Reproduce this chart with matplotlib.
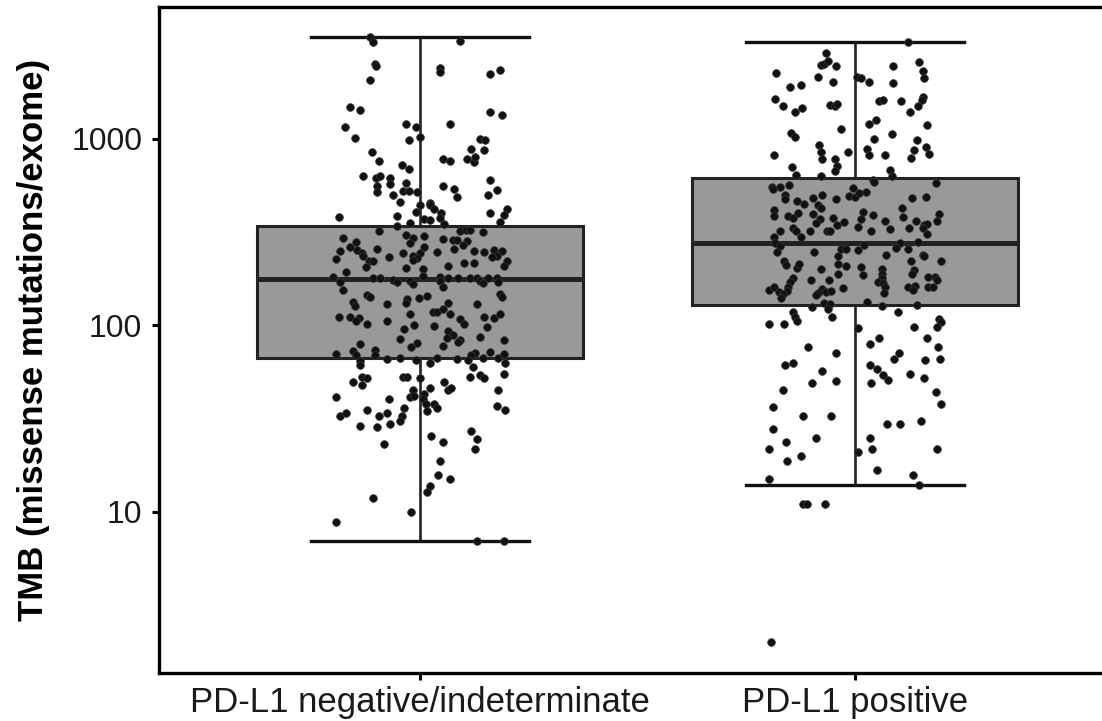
import matplotlib
matplotlib.use("Agg")
import matplotlib.pyplot as plt
from matplotlib.ticker import NullLocator, FixedLocator, FixedFormatter
import numpy as np

plt.rcParams['font.family'] = ['Liberation Sans', 'DejaVu Sans']

# ---------------- data ----------------
categories = ["PD-L1 negative/indeterminate", "PD-L1 positive"]
cat_pos = [1, 2]

# box statistics
box_q1 = [67, 128]
box_med = [177, 276]
box_q3 = [341, 617]
box_whislo = [7, 14]
box_whishi = [3490, 3300]

y_ticks = [10, 100, 1000]
y_tick_labels = ["10", "100", "1000"]

# jittered points, group 1 (x position on category axis, TMB value)
neg_x = [0.886, 0.893, 1.093, 0.897, 0.898, 0.886, 1.045, 1.047, 1.162, 1.183,
         0.838, 0.861, 1.160, 1.189, 0.827, 0.967, 0.990, 1.070, 0.999, 0.850,
         0.974, 1.139, 1.150, 1.118, 1.146, 0.889, 0.905, 1.052, 1.068, 1.107,
         1.123, 1.127, 0.958, 0.974, 0.870, 0.898, 0.909, 0.930, 0.930, 0.967,
         0.902, 1.160, 1.054, 1.079, 1.178, 0.900, 0.962, 0.974, 0.994, 0.939,
         1.157, 1.086, 0.955, 0.999, 1.022, 1.024, 1.033, 1.049, 0.990, 1.199,
         1.192, 1.162, 0.813, 0.948, 1.045, 1.010, 1.022, 0.978, 1.056, 0.946,
         1.183, 0.905, 1.091, 1.105, 1.116, 1.144, 0.967, 0.985, 1.010, 0.824,
         0.854, 0.838, 0.817, 0.978, 1.054, 1.075, 1.086, 1.109, 1.098, 1.079,
         1.010, 1.001, 1.038, 0.902, 0.856, 0.866, 0.868, 0.962, 0.983, 0.994,
         0.983, 0.928, 1.123, 1.148, 1.169, 1.189, 1.178, 1.166, 0.808, 0.882,
         0.893, 1.199, 1.192, 1.100, 1.123, 1.065, 0.875, 0.967, 1.008, 0.829,
         0.801, 0.817, 0.822, 0.893, 0.907, 0.937, 0.946, 0.978, 0.985, 1.006,
         1.045, 1.047, 1.052, 1.065, 1.088, 1.116, 1.132, 1.139, 1.144, 1.157,
         1.178, 1.180, 0.879, 0.886, 0.847, 0.850, 0.925, 0.971, 0.967, 0.997,
         1.017, 1.029, 1.040, 1.054, 1.065, 1.068, 1.130, 1.183, 1.189, 0.813,
         0.838, 0.859, 0.854, 0.879, 0.923, 0.978, 0.987, 1.033, 1.091, 1.100,
         1.146, 1.171, 1.185, 1.155, 0.964, 1.065, 1.077, 1.063, 1.091, 1.088,
         1.139, 1.194, 0.955, 0.994, 0.980, 1.052, 0.861, 0.847, 0.854, 0.896,
         0.896, 0.808, 1.127, 1.118, 1.144, 1.160, 1.192, 1.180, 0.925, 0.955,
         1.040, 1.086, 1.111, 0.863, 0.990, 1.024, 1.196, 0.863, 1.121, 0.847,
         0.866, 0.866, 0.879, 0.960, 0.969, 0.999, 1.056, 1.065, 1.072, 1.114,
         1.137, 1.146, 1.194, 1.180, 0.806, 0.983, 0.976, 0.987, 1.010, 1.022,
         1.006, 1.013, 1.017, 1.033, 1.040, 0.928, 0.964, 0.958, 0.953, 0.879,
         0.905, 0.923, 0.932, 0.815, 0.829, 0.861, 0.900, 1.178, 1.196, 1.118,
         1.132, 1.127, 1.026, 1.054, 0.918, 1.047, 1.042, 1.070, 1.024, 1.015,
         0.893, 0.980, 0.808, 1.130, 1.194]
neg_tmb = [3490, 3280, 3320, 2500, 2440, 2050, 2380, 2260, 2210, 2320,
           1470, 1430, 1380, 1330, 1160, 1200, 1150, 1200, 1025, 1010,
           980, 1000, 980, 884, 873, 852, 762, 780, 762, 780,
           753, 800, 725, 689, 633, 617, 633, 617, 573, 580,
           558, 602, 558, 538, 532, 519, 525, 525, 519, 500,
           500, 488, 458, 442, 453, 442, 421, 400, 405, 421,
           390, 400, 380, 385, 376, 371, 367, 354, 349, 340,
           358, 320, 320, 324, 324, 316, 305, 294, 301, 294,
           279, 262, 250, 276, 290, 286, 286, 283, 269, 256,
           262, 244, 247, 256, 253, 244, 235, 244, 235, 229,
           224, 232, 250, 247, 253, 250, 235, 232, 226, 221,
           221, 221, 208, 215, 215, 208, 205, 203, 200, 193,
           181, 170, 154, 179, 179, 175, 170, 172, 166, 183,
           181, 172, 160, 179, 179, 179, 179, 172, 168, 179,
           179, 170, 145, 141, 133, 127, 130, 138, 131, 140,
           143, 117, 117, 122, 131, 115, 130, 147, 141, 110,
           110, 109, 105, 101, 105, 115, 100, 99, 108, 101,
           110, 109, 115, 97.5, 95, 93, 89, 85, 83, 81,
           86, 83, 84, 80, 76, 77, 79, 73, 69, 74,
           69, 70, 71, 69, 67, 72, 70, 67, 66, 67,
           67, 66, 65, 64, 65, 63, 63, 61, 60, 49.5,
           52.6, 48, 52, 52.6, 52.6, 52, 49.5, 44.7, 45.8, 52.6,
           54, 52, 54.6, 44.7, 41, 44.7, 41, 41.5, 43, 45.8,
           40, 38, 34.5, 38, 35.8, 40, 35.8, 32.8, 30.8, 35,
           32.8, 33.7, 29.7, 32.8, 33.7, 29, 28.6, 36.7, 35, 27,
           24.7, 21.8, 25.6, 23.8, 23, 18.8, 15.8, 14.9, 13.8, 12.8,
           11.9, 10, 8.8, 7, 7]

# jittered points, group 2
pos_x = [2.122, 1.933, 1.922, 1.929, 1.938, 1.956, 1.819, 2.087, 2.147, 2.156,
         2.159, 1.915, 1.949, 2.005, 2.014, 2.032, 2.087, 1.851, 1.876, 1.816,
         1.835, 1.862, 1.878, 1.943, 1.954, 1.959, 2.055, 2.064, 2.106, 2.156,
         2.154, 2.145, 2.126, 2.048, 2.032, 2.165, 1.968, 1.853, 1.862, 2.044,
         2.085, 2.142, 2.163, 1.917, 1.922, 1.924, 1.814, 1.984, 2.028, 2.032,
         2.069, 2.135, 2.128, 2.170, 1.954, 1.959, 1.954, 1.855, 1.865, 1.922,
         2.080, 2.085, 2.041, 1.809, 1.812, 1.828, 1.848, 1.839, 1.839, 1.867,
         1.883, 1.904, 1.924, 1.915, 1.922, 1.956, 1.995, 1.986, 2.000, 2.009,
         2.025, 2.044, 2.186, 2.131, 2.163, 1.814, 1.814, 1.846, 1.857, 1.869,
         1.904, 1.920, 1.911, 1.949, 1.959, 1.975, 2.018, 2.014, 2.041, 2.007,
         2.069, 2.108, 2.110, 2.140, 2.158, 2.165, 2.156, 2.165, 2.193, 2.188,
         1.828, 1.857, 1.864, 1.876, 1.897, 1.936, 1.943, 2.037, 2.080, 2.124,
         1.814, 1.816, 1.828, 2.103, 2.094, 2.145, 2.021, 1.968, 1.979, 2.007,
         2.122, 1.821, 1.906, 1.961, 2.071, 2.156, 2.159, 2.197, 2.129, 1.837,
         1.842, 1.867, 1.871, 1.922, 1.961, 1.979, 1.961, 2.014, 2.018, 2.062,
         2.062, 2.062, 2.135, 2.131, 2.168, 2.184, 2.188, 1.857, 1.851, 1.846,
         1.844, 1.899, 1.940, 1.803, 1.814, 1.825, 1.835, 1.830, 1.924, 1.915,
         1.911, 1.933, 1.945, 1.972, 2.053, 2.064, 2.069, 2.067, 2.122, 2.138,
         2.133, 2.168, 2.179, 1.929, 1.943, 1.938, 1.901, 2.028, 2.062, 2.142,
         1.857, 1.862, 1.867, 1.947, 2.099, 2.193, 2.197, 1.803, 1.837, 2.007,
         2.135, 2.188, 2.034, 2.055, 2.165, 2.190, 1.892, 1.956, 2.101, 2.090,
         2.161, 2.195, 1.839, 1.857, 1.924, 2.034, 2.051, 2.064, 2.076, 2.126,
         2.158, 1.901, 1.956, 2.037, 1.835, 2.186, 1.812, 2.197, 1.881, 1.945,
         2.073, 2.103, 2.152, 1.812, 1.842, 1.911, 2.034, 1.803, 2.039, 2.007,
         2.188, 1.844, 1.876, 2.051, 2.133, 1.803, 2.147, 1.881, 1.890, 1.931,
         1.807]
pos_tmb = [3300, 2860, 2470, 2500, 2590, 2440, 2240, 2440, 2560, 2290,
           2100, 2130, 2020, 2130, 2100, 2000, 1976, 1900, 1930, 1620,
           1490, 1380, 1450, 1520, 1500, 1540, 1580, 1600, 1580, 1680,
           1600, 1500, 1380, 1265, 1200, 1175, 1120, 1077, 1025, 1000,
           1064, 980, 905, 928, 852, 780, 820, 842, 884, 820,
           820, 873, 790, 830, 780, 716, 673, 707, 641, 633,
           681, 633, 602, 551, 538, 551, 566, 500, 475, 464,
           447, 481, 500, 442, 427, 475, 545, 494, 488, 513,
           519, 587, 580, 481, 488, 415, 385, 385, 376, 400,
           395, 371, 354, 376, 345, 358, 405, 371, 390, 337,
           363, 427, 380, 363, 345, 349, 332, 309, 395, 363,
           320, 332, 320, 297, 320, 320, 320, 320, 328, 332,
           297, 276, 266, 276, 259, 279, 269, 256, 256, 253,
           256, 247, 247, 235, 238, 238, 235, 221, 221, 221,
           210, 203, 213, 200, 213, 208, 188, 205, 186, 200,
           188, 179, 198, 188, 181, 181, 175, 179, 170, 160,
           152, 175, 175, 154, 160, 150, 147, 140, 156, 149,
           145, 150, 152, 158, 170, 168, 160, 149, 160, 162,
           154, 160, 160, 131, 130, 122, 125, 133, 127, 128,
           117, 110, 105, 110, 117, 108, 104, 101, 102, 96,
           97.5, 97.5, 79, 85, 85, 76, 76, 71, 71, 66,
           65, 66, 61, 62.5, 56.5, 61, 58, 54, 50.6, 55,
           52, 48.8, 50, 48.8, 44.7, 43.7, 36.6, 37.6, 32.8, 32.8,
           29.7, 29.7, 30.8, 27.9, 23.8, 25, 25, 21.8, 21.8, 20.8,
           21.8, 18.8, 19.8, 16.8, 15.8, 14.9, 14, 11, 11, 11,
           2]

# ---------------- figure ----------------
W, H = 1102, 721
fig = plt.figure(figsize=(W / 100, H / 100), dpi=100)
ax = fig.add_axes([159 / W, 48.5 / H, 957 / W, 665.5 / H])

ink = '#222222'
stats = []
for i in range(len(categories)):
    stats.append(dict(med=box_med[i], q1=box_q1[i], q3=box_q3[i],
                      whislo=box_whislo[i], whishi=box_whishi[i], fliers=[]))

ax.bxp(stats, positions=cat_pos, widths=0.75, capwidths=0.5,
       patch_artist=True, showfliers=False, zorder=2,
       boxprops=dict(facecolor='#999999', edgecolor=ink, linewidth=2.2),
       whiskerprops=dict(color=ink, linewidth=1.9),
       capprops=dict(color='#111111', linewidth=2.4),
       medianprops=dict(color=ink, linewidth=3.6, solid_capstyle='butt'))

ax.scatter(neg_x, neg_tmb, s=31, c='#111111', edgecolors='#3a3a3a',
           linewidths=0.5, zorder=4)
ax.scatter(pos_x, pos_tmb, s=31, c='#111111', edgecolors='#3a3a3a',
           linewidths=0.5, zorder=4)

ax.set_yscale('log')
all_vals = neg_tmb + pos_tmb + box_whishi + box_whislo
lo, hi = np.log10(min(all_vals)), np.log10(max(all_vals))
pad = 0.05 * (hi - lo)
ax.set_ylim(10 ** (lo - pad), 10 ** (hi + pad))
ax.set_xlim(0.4, 2.6)

ax.yaxis.set_major_locator(FixedLocator(y_ticks))
ax.yaxis.set_major_formatter(FixedFormatter(y_tick_labels))
ax.yaxis.set_minor_locator(NullLocator())
ax.set_xticks(cat_pos)
ax.set_xticklabels(categories)

for side in ['left', 'bottom', 'top']:
    ax.spines[side].set_linewidth(2.4)
    ax.spines[side].set_color('black')
ax.spines['right'].set_visible(False)

ax.tick_params(axis='both', length=5, width=2.2, color='black')
ax.tick_params(axis='y', labelsize=23, pad=7, labelcolor='#1a1a1a')
ax.tick_params(axis='x', labelsize=25, pad=5, labelcolor='#1a1a1a')

ax.set_ylabel('TMB (missense mutations/exome)', fontsize=25,
              fontweight='bold', color='black')
ax.yaxis.set_label_coords(-0.114, 0.5)

fig.savefig('out.png', dpi=100)
